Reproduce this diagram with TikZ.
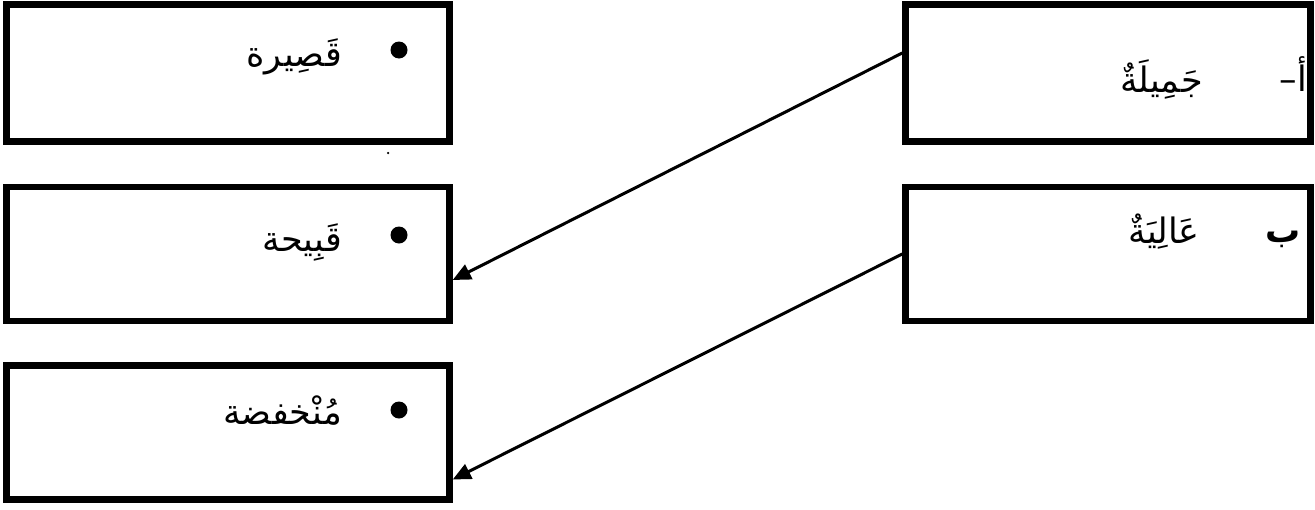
\documentclass[tikz,border=0pt]{standalone}
\usepackage{fontspec}
\newfontfamily\arabicfont[Script=Arabic]{DejaVu Sans}
\TeXXeTstate=1
\usetikzlibrary{positioning, arrows.meta}

\begin{document}
\begin{tikzpicture}[x=1pt,y=-1pt,
    wordbox/.style={draw,line width=6.5pt,inner sep=0pt},
    word/.style={font=\arabicfont\fontsize{35}{42}\selectfont,inner sep=0pt,anchor=base east},
    bulletdot/.style={circle,fill,inner sep=0pt,minimum size=17pt},
    link/.style={line width=3pt,-{Triangle[length=18pt,width=16pt]}}]
  \useasboundingbox (0,0) rectangle (1315,509);
  % left column
  \node[wordbox,minimum width=443pt,minimum height=137pt](qasira) at (228,73){};
  \node[wordbox,minimum width=443pt,minimum height=134pt](qabiha) at (228,254){};
  \node[wordbox,minimum width=443pt,minimum height=134pt](munkhafida) at (228,432.5){};
  % right column
  \node[wordbox,minimum width=405pt,minimum height=137pt](jamila) at (1108,73){};
  \node[wordbox,minimum width=405pt,minimum height=134pt](aliya) at (1108,254){};
  % bullets and words
  \node[bulletdot](dotA) at (399,50){};
  \node[bulletdot](dotB) at (399,235){};
  \node[bulletdot](dotC) at (399,410){};
  \node[word](qasiraTxt) at (342,66){\beginR قَصِيرة\endR};
  \node[word](qabihaTxt) at (342,251){\beginR قَبِيحة\endR};
  \node[word](munkhafidaTxt) at (342,424){\beginR مُنْخفضة\endR};
  \node[word](alif) at (1307,91){\beginR أ–\endR};
  \node[word](jamilaTxt) at (1203,92){\beginR جَمِيلَةٌ\endR};
  \node[word,font=\arabicfont\bfseries\fontsize{35}{42}\selectfont](ba) at (1301,242){\beginR ب\endR};
  \node[word](aliyaTxt) at (1200,243){\beginR عَالِيَةٌ\endR};
  \node[circle,fill,inner sep=0pt,minimum size=2.5pt](stray) at (388,153){};
  % matching arrows
  \draw[link]([yshift=20pt]jamila.west)--([yshift=-26pt]qabiha.east);
  \draw[link](aliya.west)--([yshift=-47pt]munkhafida.east);
\end{tikzpicture}
\end{document}
